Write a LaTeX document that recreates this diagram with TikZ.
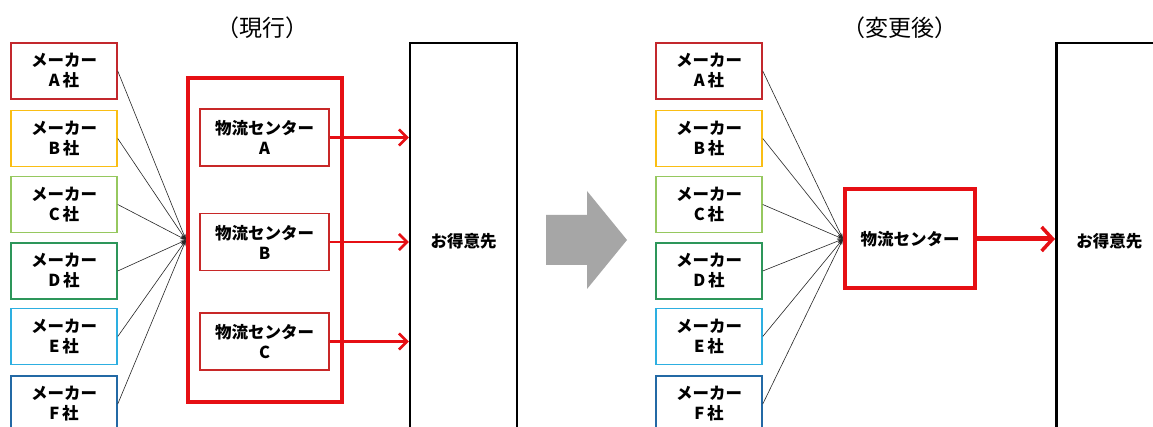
\documentclass[tikz,border=0pt]{standalone}
\usepackage{tikz}
\usepackage{xcolor}
\usepackage{fontspec}
\setmainfont{Noto Sans CJK JP}
\usetikzlibrary{calc}
\usetikzlibrary{arrows.meta}
\usetikzlibrary{shapes}
\definecolor{mkA}{RGB}{195,40,45}
\definecolor{mkB}{RGB}{250,190,20}
\definecolor{mkC}{RGB}{150,200,95}
\definecolor{mkD}{RGB}{45,150,90}
\definecolor{mkE}{RGB}{45,175,225}
\definecolor{mkF}{RGB}{35,105,165}
\definecolor{flow}{RGB}{230,15,20}
\definecolor{centerline}{RGB}{200,40,40}
\begin{document}
\begin{tikzpicture}
    [x=1pt,y=-1pt,
    maker/.style={rectangle, draw, line width=1.5pt, minimum width=106pt, minimum height=56pt, align=center, font=\fontsize{16.5}{20}\selectfont\bfseries},
    center/.style={rectangle, draw=centerline, line width=1.5pt, minimum width=129pt, minimum height=57pt, align=center, font=\fontsize{16.5}{20}\selectfont\bfseries},
    customer/.style={rectangle, draw=black, line width=2.5pt, minimum height=397pt, font=\fontsize{16.5}{20}\selectfont\bfseries},
    feed/.style={black!85, line width=0.6pt, -{Stealth[length=6pt,width=3.5pt]}},
    ship/.style={flow, line width=2.5pt, -{Straight Barb[length=8pt,width=16pt]}},
    title/.style={font=\fontsize{23}{27}\selectfont}]
    \clip (0,0) rectangle (1153,427);
    \fill[white] (0,0) rectangle (1153,427);
    % before
    \node(titleL)[title] at (262,28) {（現行）};
    \node(frame)[rectangle, draw=flow, line width=4pt, minimum width=154pt, minimum height=324pt] at (265,240) {};
    \node(custL)[customer, minimum width=107pt] at (463.5,241.5) {お得意先};
    \foreach \x/\y/\z in {A/71/mkA,B/138.5/mkB,C/204.5/mkC,D/271/mkD,E/336.5/mkE,F/404/mkF}{
        \node(makerL\x)[maker,draw=\z] at (64,\y) {メーカー\\\x\,社};
        \draw[feed] (makerL\x.east) -- (frame.west);
    }
    \foreach \x/\y in {A/137.5,B/242,C/341.5}{
        \node(center\x)[center] at (264.5,\y) {物流センター\\\x};
        \draw[ship] (center\x.east) -- (center\x.east -| custL.west);
    }
    % arrow between
    \fill[black!35] (546,215) -- (587,215) -- (587,191) -- (627,240) -- (587,289) -- (587,265) -- (546,265) -- cycle;
    % after
    \node(titleR)[title] at (900,28) {（変更後）};
    \node(hub)[rectangle, draw=flow, line width=4pt, minimum width=130pt, minimum height=99pt, font=\fontsize{16.5}{20}\selectfont\bfseries] at (910,239) {物流センター};
    \node(custR)[customer, anchor=west, text width=115pt, inner xsep=20pt, align=left] at (1055,241.5) {お得意先};
    \foreach \x/\y/\z in {A/71/mkA,B/138.5/mkB,C/204.5/mkC,D/271/mkD,E/336.5/mkE,F/404/mkF}{
        \node(makerR\x)[maker,draw=\z] at (709,\y) {メーカー\\\x\,社};
        \draw[feed] (makerR\x.east) -- (hub.west);
    }
    \draw[flow, line width=5pt, -{Straight Barb[length=11pt,width=24pt,line width=3.5pt]}] (hub.east) -- (hub.east -| custR.west);
\end{tikzpicture}
\end{document}
